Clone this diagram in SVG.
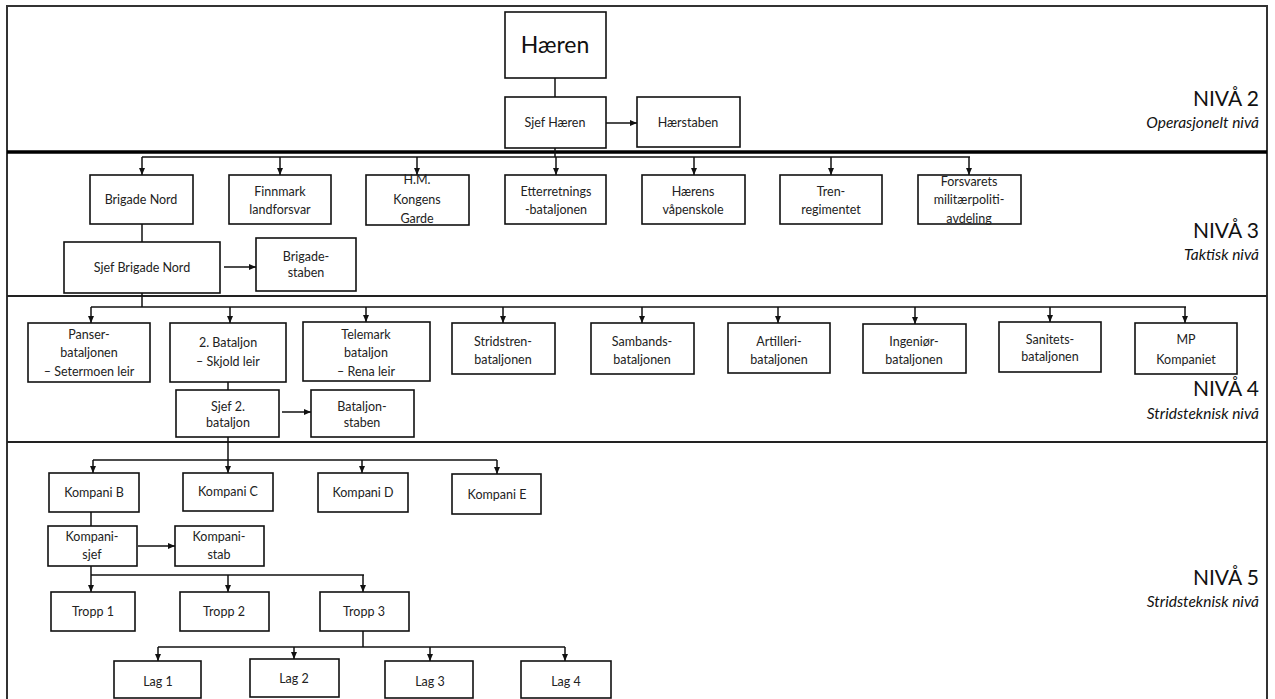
<svg xmlns="http://www.w3.org/2000/svg" width="1275" height="699" viewBox="0 0 1275 699">
<style>
.box{fill:#fff;stroke:#111;stroke-width:1.6}
.t{font-family:Lato,"Liberation Sans",sans-serif;font-size:12.5px;fill:#222;text-anchor:middle}
.big{font-family:Lato,"Liberation Sans",sans-serif;font-size:23px;fill:#111;text-anchor:middle}
.lvl{font-family:Lato,"Liberation Sans",sans-serif;font-size:21px;fill:#111;text-anchor:end}
.sub{font-family:Lato,"Liberation Sans",sans-serif;font-size:15.5px;font-style:italic;fill:#111;text-anchor:end}
.c{fill:none;stroke:#111;stroke-width:1.5}
.a{fill:none;stroke:#111;stroke-width:1.5;marker-end:url(#ah)}
.sep{stroke:#222;stroke-width:2}
</style>
<defs>
<marker id="ah" markerUnits="userSpaceOnUse" markerWidth="8" markerHeight="7" refX="7" refY="3" orient="auto">
<path d="M0,0 L7,3 L0,6 z" fill="#111"/>
</marker>
</defs>
<rect x="0" y="0" width="1275" height="699" fill="#fff"/>
<g id="frame">
<rect x="7" y="6" width="1260" height="720" fill="none" stroke="#333" stroke-width="2"/>
<line x1="7" y1="152" x2="1267" y2="152" stroke="#000" stroke-width="3.5"/>
<line class="sep" x1="7" y1="296" x2="1267" y2="296"/>
<line class="sep" x1="7" y1="442" x2="1267" y2="442"/>
</g>
<g id="levels">
<text class="lvl" x="1259" y="106">NIVÅ 2</text>
<text class="sub" x="1259" y="128">Operasjonelt nivå</text>
<text class="lvl" x="1259" y="238">NIVÅ 3</text>
<text class="sub" x="1259" y="260">Taktisk nivå</text>
<text class="lvl" x="1259" y="396">NIVÅ 4</text>
<text class="sub" x="1259" y="419">Stridsteknisk nivå</text>
<text class="lvl" x="1259" y="585">NIVÅ 5</text>
<text class="sub" x="1259" y="607">Stridsteknisk nivå</text>
</g>
<g id="connectors">
<line class="c" x1="555" y1="78" x2="555" y2="97"/>
<line class="a" x1="606" y1="123" x2="637" y2="123"/>
<polyline class="c" points="555,148 555,157"/>
<line class="c" x1="142" y1="157" x2="970" y2="157"/>
<line class="a" x1="142" y1="157" x2="142" y2="175"/>
<line class="a" x1="280" y1="157" x2="280" y2="175"/>
<line class="a" x1="417" y1="157" x2="417" y2="175"/>
<line class="a" x1="556" y1="157" x2="556" y2="175"/>
<line class="a" x1="694" y1="157" x2="694" y2="175"/>
<line class="a" x1="831" y1="157" x2="831" y2="175"/>
<line class="a" x1="969" y1="157" x2="969" y2="175"/>
<line class="c" x1="142" y1="224" x2="142" y2="242"/>
<line class="a" x1="224" y1="267" x2="256" y2="267"/>
<line class="c" x1="142" y1="293" x2="142" y2="307"/>
<line class="c" x1="91" y1="307" x2="1186" y2="307"/>
<line class="a" x1="91" y1="307" x2="91" y2="323"/>
<line class="a" x1="230" y1="307" x2="230" y2="323"/>
<line class="a" x1="366" y1="307" x2="366" y2="322"/>
<line class="a" x1="503" y1="307" x2="503" y2="323"/>
<line class="a" x1="642" y1="307" x2="642" y2="323"/>
<line class="a" x1="778" y1="307" x2="778" y2="323"/>
<line class="a" x1="915" y1="307" x2="915" y2="324"/>
<line class="a" x1="1050" y1="307" x2="1050" y2="322"/>
<line class="a" x1="1185" y1="307" x2="1185" y2="323"/>
<line class="c" x1="228" y1="382" x2="228" y2="390"/>
<line class="a" x1="282" y1="412" x2="311" y2="412"/>
<line class="c" x1="228" y1="437" x2="228" y2="460"/>
<line class="c" x1="93" y1="460" x2="497" y2="460"/>
<line class="a" x1="93" y1="460" x2="93" y2="473"/>
<line class="a" x1="228" y1="460" x2="228" y2="473"/>
<line class="a" x1="362" y1="460" x2="362" y2="473"/>
<line class="a" x1="497" y1="460" x2="497" y2="474"/>
<line class="c" x1="91" y1="512" x2="91" y2="526"/>
<line class="a" x1="138" y1="546" x2="175" y2="546"/>
<line class="c" x1="91" y1="566" x2="91" y2="575"/>
<line class="c" x1="91" y1="575" x2="364" y2="575"/>
<line class="a" x1="91" y1="575" x2="91" y2="592"/>
<line class="a" x1="228" y1="575" x2="228" y2="592"/>
<line class="a" x1="363" y1="575" x2="363" y2="592"/>
<line class="c" x1="363" y1="631" x2="363" y2="647"/>
<line class="c" x1="158" y1="647" x2="565" y2="647"/>
<line class="a" x1="158" y1="647" x2="158" y2="661"/>
<line class="a" x1="294" y1="647" x2="294" y2="659"/>
<line class="a" x1="430" y1="647" x2="430" y2="661"/>
<line class="a" x1="565" y1="647" x2="565" y2="661"/>
</g>
<g id="haeren"><rect class="box" x="505" y="12" width="101" height="66"/><text class="big" x="555" y="53">Hæren</text></g>
<g id="sjef-haeren"><rect class="box" x="505" y="97" width="101" height="51"/><text class="t" x="555" y="127">Sjef Hæren</text></g>
<g id="haerstaben"><rect class="box" x="637" y="97" width="103" height="50"/><text class="t" x="688" y="127">Hærstaben</text></g>

<g id="brigade-nord"><rect class="box" x="90" y="175" width="103" height="49"/><text class="t" x="141" y="204">Brigade Nord</text></g>
<g id="finnmark"><rect class="box" x="229" y="175" width="102" height="49"/><text class="t" x="280" y="196">Finnmark</text><text class="t" x="280" y="214">landforsvar</text></g>
<g id="kongens-garde"><rect class="box" x="366" y="175" width="103" height="50"/><text class="t" x="417" y="184">H.M.</text><text class="t" x="417" y="204">Kongens</text><text class="t" x="417" y="223">Garde</text></g>
<g id="etterretning"><rect class="box" x="505" y="175" width="101" height="49"/><text class="t" x="556" y="196">Etterretnings</text><text class="t" x="556" y="214">-bataljonen</text></g>
<g id="vapenskole"><rect class="box" x="642" y="175" width="103" height="49"/><text class="t" x="693" y="196">Hærens</text><text class="t" x="693" y="214">våpenskole</text></g>
<g id="trenregimentet"><rect class="box" x="780" y="175" width="102" height="49"/><text class="t" x="831" y="196">Tren-</text><text class="t" x="831" y="214">regimentet</text></g>
<g id="militaerpoliti"><rect class="box" x="918" y="175" width="103" height="49"/><text class="t" x="969" y="186">Forsvarets</text><text class="t" x="969" y="204">militærpoliti-</text><text class="t" x="969" y="223">avdeling</text></g>
<g id="sjef-brigade"><rect class="box" x="64" y="242" width="156" height="51"/><text class="t" x="142" y="272">Sjef Brigade Nord</text></g>
<g id="brigadestaben"><rect class="box" x="256" y="238" width="100" height="53"/><text class="t" x="306" y="261">Brigade-</text><text class="t" x="306" y="277">staben</text></g>

<g id="panser"><rect class="box" x="28" y="323" width="122" height="59"/><text class="t" x="89" y="339">Panser-</text><text class="t" x="89" y="357">bataljonen</text><text class="t" x="89" y="376">– Setermoen  leir</text></g>
<g id="bataljon2"><rect class="box" x="170" y="323" width="116" height="59"/><text class="t" x="228" y="347">2. Bataljon</text><text class="t" x="228" y="366">– Skjold leir</text></g>
<g id="telemark"><rect class="box" x="303" y="322" width="127" height="59"/><text class="t" x="366" y="339">Telemark</text><text class="t" x="366" y="357">bataljon</text><text class="t" x="366" y="376">– Rena leir</text></g>
<g id="stridstren"><rect class="box" x="452" y="323" width="103" height="51"/><text class="t" x="503" y="346">Stridstren-</text><text class="t" x="503" y="364">bataljonen</text></g>
<g id="sambands"><rect class="box" x="591" y="323" width="103" height="51"/><text class="t" x="642" y="346">Sambands-</text><text class="t" x="642" y="364">bataljonen</text></g>
<g id="artilleri"><rect class="box" x="728" y="323" width="102" height="50"/><text class="t" x="779" y="346">Artilleri-</text><text class="t" x="779" y="364">bataljonen</text></g>
<g id="ingenior"><rect class="box" x="863" y="324" width="103" height="49"/><text class="t" x="914" y="346">Ingeniør-</text><text class="t" x="914" y="364">bataljonen</text></g>
<g id="sanitets"><rect class="box" x="999" y="322" width="102" height="50"/><text class="t" x="1050" y="344">Sanitets-</text><text class="t" x="1050" y="361">bataljonen</text></g>
<g id="mp-kompaniet"><rect class="box" x="1135" y="323" width="102" height="51"/><text class="t" x="1186" y="344">MP</text><text class="t" x="1186" y="364">Kompaniet</text></g>
<g id="sjef-bataljon"><rect class="box" x="176" y="390" width="103" height="47"/><text class="t" x="228" y="411">Sjef 2.</text><text class="t" x="228" y="427">bataljon</text></g>
<g id="bataljonstaben"><rect class="box" x="311" y="390" width="103" height="47"/><text class="t" x="362" y="411">Bataljon-</text><text class="t" x="362" y="427">staben</text></g>

<g id="kompani-b"><rect class="box" x="49" y="473" width="90" height="39"/><text class="t" x="94" y="497">Kompani B</text></g>
<g id="kompani-c"><rect class="box" x="183" y="473" width="90" height="38"/><text class="t" x="228" y="496">Kompani C</text></g>
<g id="kompani-d"><rect class="box" x="318" y="473" width="90" height="39"/><text class="t" x="363" y="497">Kompani D</text></g>
<g id="kompani-e"><rect class="box" x="452" y="474" width="89" height="40"/><text class="t" x="497" y="499">Kompani E</text></g>
<g id="kompanisjef"><rect class="box" x="48" y="526" width="89" height="40"/><text class="t" x="92" y="541">Kompani-</text><text class="t" x="92" y="559">sjef</text></g>
<g id="kompanistab"><rect class="box" x="175" y="526" width="89" height="40"/><text class="t" x="219" y="541">Kompani-</text><text class="t" x="219" y="559">stab</text></g>

<g id="tropp1"><rect class="box" x="51" y="592" width="84" height="39"/><text class="t" x="93" y="616">Tropp 1</text></g>
<g id="tropp2"><rect class="box" x="180" y="592" width="89" height="39"/><text class="t" x="224" y="616">Tropp 2</text></g>
<g id="tropp3"><rect class="box" x="320" y="592" width="89" height="39"/><text class="t" x="364" y="616">Tropp 3</text></g>

<g id="lag1"><rect class="box" x="114" y="661" width="87" height="37"/><text class="t" x="158" y="686">Lag 1</text></g>
<g id="lag2"><rect class="box" x="250" y="659" width="89" height="38"/><text class="t" x="294" y="683">Lag 2</text></g>
<g id="lag3"><rect class="box" x="385" y="661" width="88" height="37"/><text class="t" x="430" y="686">Lag 3</text></g>
<g id="lag4"><rect class="box" x="521" y="661" width="90" height="37"/><text class="t" x="566" y="686">Lag 4</text></g>
</svg>
